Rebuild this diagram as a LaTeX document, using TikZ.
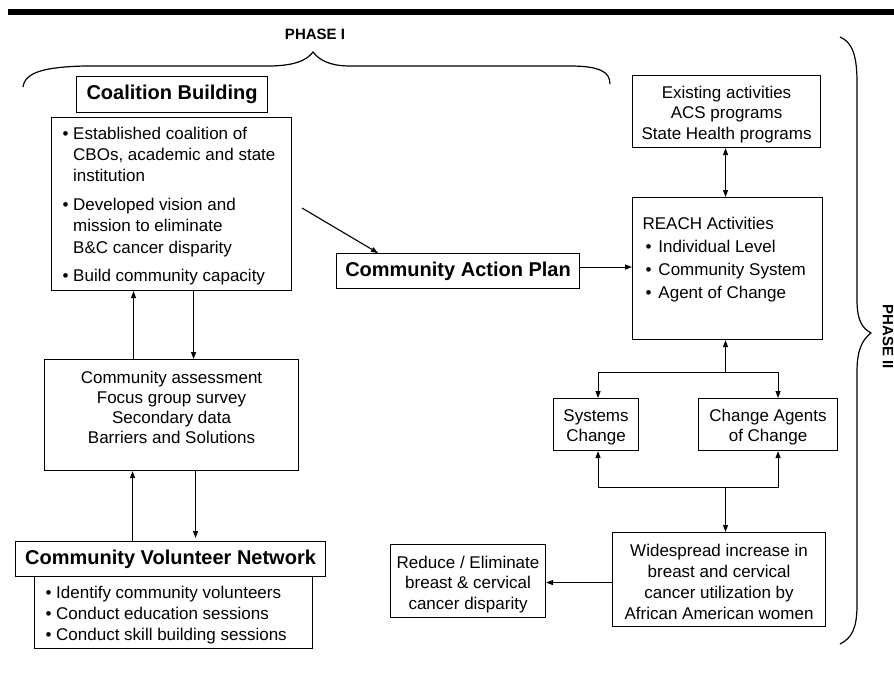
\documentclass[tikz,border=0pt]{standalone}
\usepackage{fontspec}
\setmainfont{Liberation Sans}
\usetikzlibrary{arrows.meta}
\tikzset{
  box/.style={draw, line width=1.1pt, inner sep=0pt, anchor=north west},
  ttl/.style={draw, fill=white, line width=1.1pt, inner sep=0pt, anchor=north west, font=\fontsize{20}{24}\selectfont\bfseries},
  arr/.style={line width=1.1pt, -{Triangle[length=7pt,width=5pt]}},
  darr/.style={line width=1.1pt, {Triangle[length=7pt,width=5pt]}-{Triangle[length=7pt,width=5pt]}},
  ln/.style={line width=1.2pt},
  phase/.style={font=\fontsize{15}{18}\selectfont\bfseries, inner sep=0pt}
}
\newcommand{\bul}{\textbullet\ }
\newcommand{\ind}{\phantom{\textbullet\ }}
\begin{document}
\begin{tikzpicture}[x=1pt,y=-1pt]
\useasboundingbox (0,0) rectangle (894,672);
% top bar
\fill (8,9) rectangle (894,15);
% phase labels
\node[phase] (p1) at (315,34) {PHASE I};
\node[phase, rotate=-90] (p2) at (888,337) {PHASE II};
% braces
\draw[ln] (23,87) .. controls (25,72) and (45,67) .. (85,66) -- (268,66)
  .. controls (295,66) and (307,60) .. (313,52)
  .. controls (319,60) and (330,66) .. (350,66) -- (570,66)
  .. controls (600,66) and (610,72) .. (610,84);
\draw[ln] (840,37) .. controls (852,42) and (857,55) .. (857,82) -- (857,300)
  .. controls (857,320) and (862,328) .. (871,333)
  .. controls (862,340) and (857,350) .. (857,372) -- (857,605)
  .. controls (857,628) and (852,638) .. (840,644);

% left column
\node[ttl, minimum width=191pt, minimum height=36pt] (cbt) at (76,76) {Coalition Building};
\node[box] (cb) at (51,117) {\parbox[c][173pt][t]{240pt}{\fontsize{17}{21.3}\selectfont\raggedright\leftskip=11pt
\rule{0pt}{21.5pt}\bul Established coalition of\\
\ind CBOs, academic and state\\
\ind institution\\[7.5pt]
\bul Developed vision and\\
\ind mission to eliminate\\
\ind B\&C cancer disparity\\[7pt]
\bul Build community capacity}};

\node[box] (assess) at (44,359) {\parbox[c][111pt][t]{254pt}{\fontsize{17}{20.3}\selectfont\centering
\rule{0pt}{23.5pt}Community assessment\\
Focus group survey\\
Secondary data\\
Barriers and Solutions}};

\node[box] (cvnl) at (34,576) {\parbox[c][72pt][t]{278pt}{\fontsize{17}{21}\selectfont\raggedright\leftskip=11pt
\rule{0pt}{21.5pt}\bul Identify community volunteers\\
\bul Conduct education sessions\\
\bul Conduct skill building sessions}};
\node[ttl, minimum width=310pt, minimum height=35pt] (cvnt) at (15,541) {Community Volunteer Network};

% middle
\node[ttl, minimum width=243pt, minimum height=35pt] (cap) at (336,253) {Community Action Plan};

\node[box] (red) at (390,544) {\parbox[c][73pt][t]{155pt}{\fontsize{17}{20.5}\selectfont\centering
\rule{0pt}{23.5pt}Reduce / Eliminate\\
breast \& cervical\\
cancer disparity}};

% right column
\node[box] (exist) at (632,75) {\parbox[c][72pt][t]{188pt}{\fontsize{17}{20.5}\selectfont\centering
\rule{0pt}{22.5pt}Existing activities\\
ACS programs\\
State Health programs}};

\node[box] (reach) at (632,197) {\parbox[c][142pt][t]{190pt}{\fontsize{17}{23}\selectfont\raggedright\leftskip=10pt
\rule{0pt}{31.5pt}REACH Activities\\
\hspace*{3pt}\textbullet\hspace{7pt}Individual Level\\
\hspace*{3pt}\textbullet\hspace{7pt}Community System\\
\hspace*{3pt}\textbullet\hspace{7pt}Agent of Change}};

\node[box] (sys) at (553,398) {\parbox[c][52pt][t]{85pt}{\fontsize{17}{20}\selectfont\centering
\rule{0pt}{22.5pt}Systems\\
Change}};

\node[box] (cag) at (698,398) {\parbox[c][52pt][t]{139pt}{\fontsize{17}{20}\selectfont\centering
\rule{0pt}{22.5pt}Change Agents\\
of Change}};

\node[box] (wide) at (612,532) {\parbox[c][94pt][t]{213pt}{\fontsize{17}{21}\selectfont\centering
\rule{0pt}{23.5pt}Widespread increase in\\
breast and cervical\\
cancer utilization by\\
African American women}};

% connectors left
\draw[arr] ([xshift=-38pt]assess.north) -- ([xshift=-38pt]assess.north |- cb.south);
\draw[arr] ([xshift=22pt]cb.south) -- ([xshift=22pt]cb.south |- assess.north);
\draw[arr] ([xshift=-38pt]cvnt.north) -- ([xshift=-38pt]cvnt.north |- assess.south);
\draw[arr, shorten >=3pt] ([xshift=24pt]assess.south) -- ([xshift=24pt]assess.south |- cvnt.north);

% coalition -> action plan
\coordinate (cbout) at (302,208);
\draw[arr] (cbout) -- ([xshift=42pt]cap.north west);
% action plan -> reach
\draw[arr] ([yshift=4pt]cap.east) -- ([yshift=4pt]cap.east -| reach.west);
% existing <-> reach
\draw[darr] ([xshift=-1pt]exist.south) -- ([xshift=-1pt]exist.south |- reach.north);
% reach split
\coordinate (split) at (725.5,372.5);
\draw[arr] (split) -- (split |- reach.south);
\draw[darr] ([xshift=2pt]sys.north) |- (split) -| ([xshift=10pt]cag.north);
% merge
\coordinate (merge) at (725.5,487.5);
\draw[darr] ([xshift=2pt]sys.south) |- (merge) -| ([xshift=10pt]cag.south);
\draw[arr] (merge) -- (merge |- wide.north);
% widespread -> reduce
\draw[arr] ([yshift=-3pt]wide.west) -- ([yshift=-3pt]wide.west -| red.east);
\end{tikzpicture}
\end{document}
